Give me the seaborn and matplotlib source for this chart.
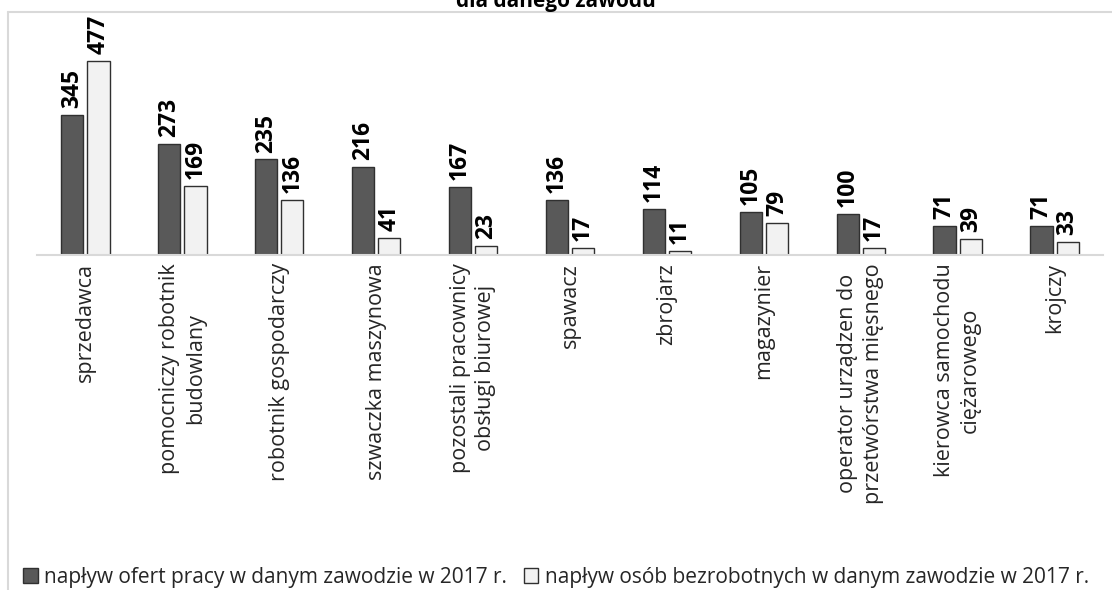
import matplotlib
matplotlib.use("Agg")
import matplotlib.pyplot as plt
import seaborn as sns
import pandas as pd
from matplotlib.lines import Line2D
from matplotlib.patches import Patch

categories = [
    "sprzedawca",
    "pomocniczy robotnik\nbudowlany",
    "robotnik gospodarczy",
    "szwaczka maszynowa",
    "pozostali pracownicy\nobsługi biurowej",
    "spawacz",
    "zbrojarz",
    "magazynier",
    "operator urządzen do\nprzetwórstwa mięsnego",
    "kierowca samochodu\nciężarowego",
    "krojczy",
]
oferty = [345, 273, 235, 216, 167, 136, 114, 105, 100, 71, 71]
bezrobotni = [477, 169, 136, 41, 23, 17, 11, 79, 17, 39, 33]
series_names = [
    "napływ ofert pracy w danym zawodzie w 2017 r.",
    "napływ osób bezrobotnych w danym zawodzie w 2017 r.",
]
title = "dla danego zawodu"

df = pd.DataFrame({
    "zawod": categories * 2,
    "wartosc": oferty + bezrobotni,
    "seria": [series_names[0]] * len(categories) + [series_names[1]] * len(categories),
})

sns.set_theme(style="white")
plt.rcParams["font.family"] = ["Open Sans", "DejaVu Sans"]

W, H = 1112, 590
fig = plt.figure(figsize=(W / 100, H / 100), dpi=100)
ax = fig.add_axes([37 / W, (H - 255) / H, 1066 / W, 235 / H])

colors = ["#595959", "#f2f2f2"]
sns.barplot(data=df, x="zawod", y="wartosc", hue="seria", palette=colors,
            width=0.54, gap=0.15, edgecolor="#303030", linewidth=1.0,
            ax=ax, legend=False)

for cont in ax.containers:
    ax.bar_label(cont, rotation=90, padding=5, fontsize=16.5,
                 fontweight="bold", color="black")

ax.set_ylim(0, 578)
ax.set_xlim(-0.5, len(categories) - 0.5)
ax.set_xlabel("")
ax.set_ylabel("")
ax.set_yticks([])
for s in ["top", "right", "left"]:
    ax.spines[s].set_visible(False)
ax.spines["bottom"].set_color("#d9d9d9")
ax.spines["bottom"].set_linewidth(1.5)
ax.tick_params(axis="x", length=0, pad=6)
ax.set_xticks(range(len(categories)))
ax.set_xticklabels(categories, rotation=90, ha="center", va="top",
                   fontsize=15.5, color="#262626", linespacing=1.3)

# chart area border (top and left)
fig.add_artist(Line2D([8 / W, 8 / W], [0, 1 - 12 / H], transform=fig.transFigure,
                      color="#d9d9d9", lw=1.5))
fig.add_artist(Line2D([8 / W, 1], [1 - 12 / H, 1 - 12 / H], transform=fig.transFigure,
                      color="#d9d9d9", lw=1.5))

fig.text(0.5, 1 - 7 / H, title, ha="center", va="baseline",
         fontsize=15, fontweight="bold", color="black")

handles = [Patch(facecolor=colors[0], edgecolor="#303030", lw=1.0),
           Patch(facecolor=colors[1], edgecolor="#303030", lw=1.0)]
fig.legend(handles, series_names, loc="center", bbox_to_anchor=(0.5, 1 - 577 / H),
           ncol=2, frameon=False, fontsize=15, handlelength=0.7, handleheight=0.7,
           handletextpad=0.3, columnspacing=0.8, labelcolor="#262626",
           borderpad=0.1)

fig.savefig("out.png", dpi=100)
